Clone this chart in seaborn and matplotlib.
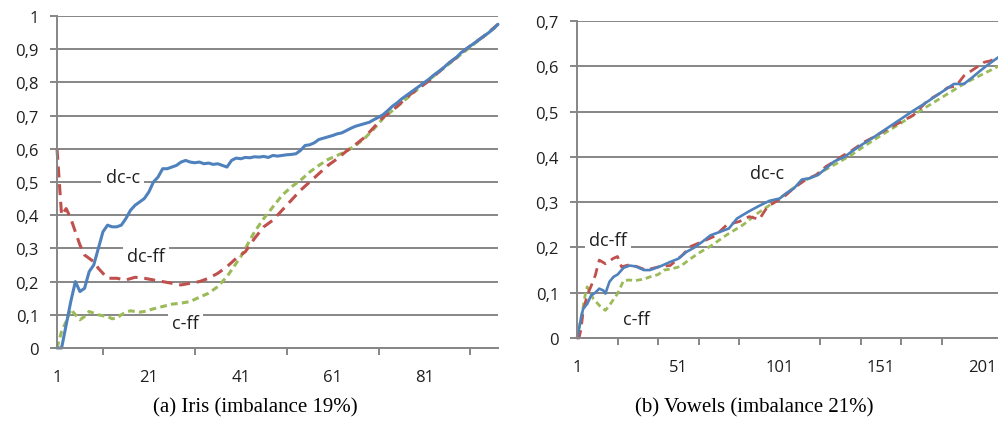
import matplotlib
matplotlib.use("Agg")
import matplotlib.pyplot as plt
import seaborn as sns
import numpy as np

# ---------------- data: (a) Iris ----------------
iris_dcc_x = list(range(1, 98))
iris_dcc_y = [0, 0, 0.07, 0.14, 0.2, 0.17, 0.18, 0.23, 0.25, 0.3, 0.35, 0.37, 0.365, 0.365,
              0.37, 0.39, 0.415, 0.43, 0.44, 0.45, 0.47, 0.5, 0.515, 0.54, 0.54, 0.545, 0.55,
              0.56, 0.565, 0.56, 0.558, 0.56, 0.555, 0.557, 0.553, 0.555, 0.55, 0.545, 0.565,
              0.572, 0.57, 0.574, 0.573, 0.576, 0.575, 0.577, 0.574, 0.58, 0.578, 0.58, 0.582,
              0.583, 0.585, 0.595, 0.61, 0.612, 0.618, 0.628, 0.632, 0.636, 0.64, 0.645, 0.648,
              0.655, 0.662, 0.668, 0.672, 0.676, 0.68, 0.688, 0.695, 0.703, 0.715, 0.728, 0.738,
              0.75, 0.76, 0.77, 0.78, 0.79, 0.8, 0.81, 0.822, 0.832, 0.842, 0.855, 0.866, 0.876,
              0.89, 0.9, 0.91, 0.92, 0.93, 0.94, 0.95, 0.962, 0.975]

iris_dcff_x = [1, 2, 3, 4, 5, 6, 7, 8, 9, 10, 11, 12, 14, 16, 18, 20, 22, 24, 26, 28, 30, 32,
               34, 36, 38, 40, 42, 44, 46, 48, 50, 52, 54, 56, 58, 60, 62, 64, 66, 68, 70, 72,
               74, 76, 78, 80, 82, 84, 86, 88, 90, 92, 94, 97]
iris_dcff_y = [0.6, 0.4, 0.42, 0.39, 0.35, 0.31, 0.28, 0.27, 0.26, 0.24, 0.225, 0.21, 0.21,
               0.205, 0.213, 0.21, 0.205, 0.2, 0.195, 0.19, 0.195, 0.2, 0.21, 0.225, 0.245,
               0.27, 0.29, 0.33, 0.365, 0.385, 0.415, 0.445, 0.475, 0.5, 0.525, 0.55, 0.57,
               0.593, 0.613, 0.635, 0.665, 0.695, 0.715, 0.74, 0.765, 0.785, 0.805, 0.83,
               0.855, 0.875, 0.9, 0.92, 0.94, 0.975]

iris_cff_x = [1, 2, 3, 4, 5, 6, 7, 8, 9, 10, 11, 12, 13, 14, 15, 16, 17, 18, 19, 20, 22, 24,
              26, 28, 30, 32, 34, 36, 38, 40, 41, 42, 44, 46, 48, 50, 52, 54, 56, 58, 60, 62,
              64, 66, 68, 70, 72, 74, 76, 78, 80, 82, 84, 86, 88, 90, 92, 94, 97]
iris_cff_y = [0, 0.05, 0.08, 0.117, 0.1, 0.085, 0.095, 0.11, 0.105, 0.1, 0.097, 0.095, 0.088,
              0.09, 0.1, 0.108, 0.112, 0.11, 0.108, 0.11, 0.118, 0.125, 0.132, 0.135, 0.14,
              0.153, 0.165, 0.185, 0.215, 0.255, 0.275, 0.3, 0.35, 0.39, 0.425, 0.46, 0.485,
              0.505, 0.53, 0.55, 0.568, 0.58, 0.593, 0.61, 0.632, 0.66, 0.692, 0.715, 0.738,
              0.762, 0.785, 0.808, 0.83, 0.852, 0.874, 0.896, 0.918, 0.94, 0.972]

# ---------------- data: (b) Vowels ----------------
vow_dcc_x = [1, 2, 3, 4, 5, 6, 8, 10, 12, 14, 15, 17, 19, 21, 24, 27, 30, 34, 37, 42, 47, 51,
             55, 59, 63, 67, 72, 76, 80, 86, 91, 96, 101, 105, 108, 112, 116, 120, 124, 128,
             133, 137, 142, 147, 152, 157, 162, 167, 172, 177, 182, 187, 192, 196, 200, 204, 209]
vow_dcc_y = [0, 0.02, 0.045, 0.064, 0.07, 0.075, 0.094, 0.1, 0.109, 0.105, 0.098, 0.124,
             0.135, 0.14, 0.155, 0.16, 0.158, 0.15, 0.15, 0.158, 0.168, 0.175, 0.19, 0.2,
             0.213, 0.227, 0.235, 0.242, 0.264, 0.28, 0.292, 0.303, 0.308, 0.322, 0.33, 0.35,
             0.353, 0.36, 0.375, 0.39, 0.4, 0.413, 0.428, 0.442, 0.457, 0.472, 0.487, 0.502,
             0.516, 0.531, 0.546, 0.561, 0.561, 0.575, 0.59, 0.604, 0.62]

vow_dcff_x = [1, 2, 3, 4, 6, 8, 10, 12, 15, 19, 21, 23, 27, 31, 35, 42, 47, 53, 57, 63, 69,
              75, 81, 86, 91, 95, 98, 104, 108, 114, 119, 124, 128, 132, 137, 142, 148, 154,
              160, 167, 174, 180, 184, 188, 192, 198, 202, 205, 209]
vow_dcff_y = [0, 0, 0.02, 0.058, 0.094, 0.115, 0.138, 0.172, 0.164, 0.176, 0.18, 0.157,
              0.162, 0.157, 0.15, 0.158, 0.16, 0.183, 0.202, 0.213, 0.225, 0.25, 0.257,
              0.268, 0.262, 0.29, 0.298, 0.315, 0.331, 0.35, 0.36, 0.379, 0.39, 0.402, 0.415,
              0.431, 0.445, 0.461, 0.475, 0.492, 0.524, 0.54, 0.553, 0.556, 0.579, 0.597,
              0.609, 0.612, 0.62]

vow_cff_x = [1, 2, 3, 5, 6, 7, 9, 12, 15, 17, 19, 21, 24, 27, 30, 34, 37, 41, 44, 48, 52, 57,
             62, 67, 75, 83, 90, 95, 103, 111, 119, 127, 136, 144, 152, 160, 168, 177, 185,
             193, 201, 209]
vow_cff_y = [0, 0.02, 0.042, 0.094, 0.113, 0.105, 0.087, 0.072, 0.061, 0.072, 0.085, 0.098,
             0.127, 0.128, 0.127, 0.13, 0.135, 0.14, 0.15, 0.153, 0.158, 0.175, 0.19, 0.203,
             0.228, 0.25, 0.275, 0.29, 0.315, 0.342, 0.36, 0.38, 0.403, 0.427, 0.45, 0.472,
             0.495, 0.52, 0.542, 0.564, 0.582, 0.6]

iris_yticks = [0, 0.1, 0.2, 0.3, 0.4, 0.5, 0.6, 0.7, 0.8, 0.9, 1.0]
vow_yticks = [0, 0.1, 0.2, 0.3, 0.4, 0.5, 0.6, 0.7]
iris_xlabels = [1, 21, 41, 61, 81]
vow_xlabels = [1, 51, 101, 151, 201]
captions = ["(a) Iris (imbalance 19%)", "(b) Vowels (imbalance 21%)"]

BLUE = "#4F81BD"
RED = "#C0504D"
GREEN = "#9BBB59"
GRID = "#868686"
TXT = "#1f1f1f"

sns.set_theme(style="white")
plt.rcParams["font.family"] = ["Open Sans", "DejaVu Sans"]

fig = plt.figure(figsize=(9.98, 4.27), dpi=100)
axL = fig.add_axes([57 / 998, 1 - 349 / 427, 441 / 998, 332 / 427])
axR = fig.add_axes([577 / 998, 1 - 339 / 427, 421 / 998, 317 / 427])


def style_axis(ax, xmax, ymax, yticks, xlabels, minor_step):
    ax.set_xlim(1, xmax)
    ax.set_ylim(0, ymax)
    ax.set_yticks(yticks)
    ax.set_yticklabels([("%g" % v).replace(".", ",") for v in yticks])
    ax.set_xticks(xlabels)
    ax.set_xticklabels([str(v) for v in xlabels])
    ax.set_xticks(list(range(1, int(xmax) + 1, minor_step)), minor=True)
    ax.yaxis.grid(True, color=GRID, linewidth=1.4)
    ax.xaxis.grid(False)
    ax.set_axisbelow(True)
    for s in ["top", "right"]:
        ax.spines[s].set_visible(False)
    for s in ["left", "bottom"]:
        ax.spines[s].set_color(GRID)
        ax.spines[s].set_linewidth(1.4)
    ax.tick_params(axis="y", which="major", left=True, length=5, width=1.4, color=GRID,
                   labelsize=12, labelcolor=TXT, pad=8)
    ax.tick_params(axis="x", which="major", bottom=False, length=0, labelsize=12,
                   labelcolor=TXT, pad=15)
    ax.tick_params(axis="x", which="minor", bottom=True, length=5, width=1.4, color=GRID)
    ax.set_xlabel("")
    ax.set_ylabel("")


def draw(ax, x, y, color, dashes, lw):
    sns.lineplot(x=x, y=y, ax=ax, color=color, linewidth=lw, legend=False, clip_on=False)
    line = ax.get_lines()[-1]
    if dashes is not None:
        line.set_dashes(dashes)
        line.set_dash_capstyle("butt")


# Iris
draw(axL, iris_cff_x, iris_cff_y, GREEN, (2.2, 1.4), 2.2)
draw(axL, iris_dcff_x, iris_dcff_y, RED, (3.6, 2.2), 2.2)
draw(axL, iris_dcc_x, iris_dcc_y, BLUE, None, 2.2)
style_axis(axL, 97, 1.0, iris_yticks, iris_xlabels, 10)

# Vowels
draw(axR, vow_cff_x, vow_cff_y, GREEN, (2.2, 1.4), 2.0)
draw(axR, vow_dcff_x, vow_dcff_y, RED, (3.6, 2.2), 2.0)
draw(axR, vow_dcc_x, vow_dcc_y, BLUE, None, 1.9)
style_axis(axR, 208.8, 0.7, vow_yticks, vow_xlabels, 20)

box = dict(facecolor="white", edgecolor="none", pad=3)
kw = dict(fontsize=13, color=TXT, ha="center", va="center", bbox=box, zorder=5)
axL.text(15.3, 0.515, "dc-c", **kw)
axL.text(20.3, 0.277, "dc-ff", **kw)
axL.text(29.0, 0.075, "c-ff", **kw)
axR.text(94.8, 0.364, "dc-c", **kw)
axR.text(16.3, 0.216, "dc-ff", **kw)
axR.text(30.1, 0.042, "c-ff", **kw)

fig.text(255 / 998, 1 - 408 / 427, captions[0], family="Liberation Serif", fontsize=15,
         color="black", ha="center", va="center")
fig.text(754 / 998, 1 - 408 / 427, captions[1], family="Liberation Serif", fontsize=15,
         color="black", ha="center", va="center")

fig.savefig("out.png", dpi=100)
